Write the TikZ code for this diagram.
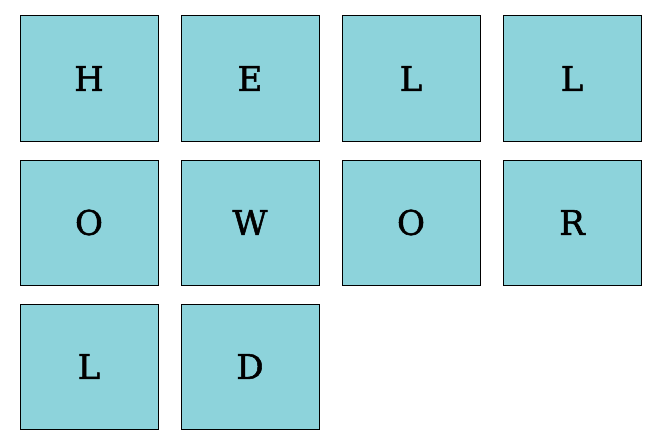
\documentclass[tikz,border=0pt]{standalone}
\usepackage{fontspec}
\setmainfont{DejaVu Serif}
\newfontfamily\tilefont[BoldFont={DejaVu Serif},BoldFeatures={FakeBold=1.5}]{DejaVu Serif}
\usepackage{tikz}
\definecolor{tilecolor}{HTML}{8DD3DB}
\tikzset{
  tile/.style={draw=black, fill=tilecolor, line width=1pt,
    minimum width=138pt, minimum height=125pt, inner sep=0pt,
    font=\tilefont\bfseries\fontsize{34}{38}\selectfont}
}

\begin{document}
\begin{tikzpicture}[x=1pt,y=-1pt]
\useasboundingbox (0,0) rectangle (663,441);
\foreach \txt/\col/\row [count=\i] in {H/0/0,E/1/0,L/2/0,L/3/0,O/0/1,W/1/1,O/2/1,R/3/1,L/0/2,D/1/2}
  \node[tile] (tile\i) at ({89+161*\col},{78.5+144*\row}) {\txt};
\end{tikzpicture}
\end{document}
